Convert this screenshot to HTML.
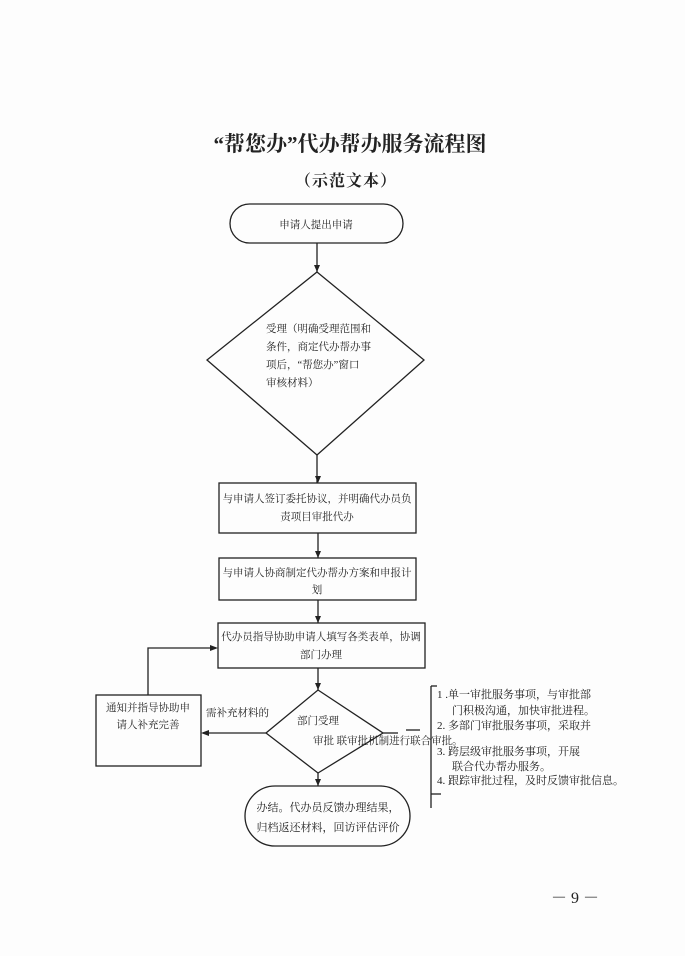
<!DOCTYPE html>
<html><head><meta charset="utf-8"><style>
html,body{margin:0;padding:0;background:#fff;}
svg{display:block;}
text{font-family:"Liberation Serif","Noto Serif CJK SC",serif;fill:#222;}
</style></head><body>
<svg width="685" height="956" viewBox="0 0 685 956" xmlns="http://www.w3.org/2000/svg">
<rect width="685" height="956" fill="#fdfdfd"/>
<g stroke="#222" stroke-width="1.3" fill="none">
<rect x="230" y="204" width="173" height="39" rx="19.5"/>
<line x1="317" y1="243" x2="317" y2="272"/>
<polygon points="317,272 424,360 317,455 207,360"/>
<line x1="317" y1="455" x2="317" y2="483"/>
<rect x="219" y="483" width="197" height="50"/>
<line x1="318" y1="533" x2="318" y2="558"/>
<rect x="219" y="558" width="197" height="42"/>
<line x1="318" y1="600" x2="318" y2="623"/>
<rect x="218" y="623" width="207" height="45"/>
<line x1="318" y1="668" x2="318" y2="690"/>
<polygon points="318,690 383,733 318,773 266,733"/>
<line x1="318" y1="773" x2="318" y2="786"/>
<rect x="245" y="786" width="165" height="60" rx="30"/>
<rect x="96" y="695" width="105" height="71"/>
<line x1="266" y1="733" x2="203" y2="733"/>
<polyline points="148,695 148,648 216,648"/>
<line x1="383" y1="733" x2="398" y2="733"/>
<line x1="406" y1="730" x2="420" y2="730"/>
<line x1="431" y1="686" x2="431" y2="808"/>
<line x1="431" y1="686" x2="437" y2="686"/>
<line x1="431" y1="794" x2="441" y2="794"/>
</g>
<g fill="#222">
<polygon points="218,648 210,645 210,651"/>
<polygon points="201,733 209,730 209,736"/>
<polygon points="317,272 314,265 320,265"/>
<polygon points="318,483 315,476 321,476"/>
<polygon points="318,558 315,551 321,551"/>
<polygon points="318,623 315,616 321,616"/>
<polygon points="318,690 315,683 321,683"/>
<polygon points="318,786 315,779 321,779"/>
</g>
<text x="350" y="151" font-size="21" font-weight="bold" text-anchor="middle">“帮您办”代办帮办服务流程图</text>
<text x="346" y="186" font-size="16" font-weight="bold" text-anchor="middle" letter-spacing="1">（示范文本）</text>
<g font-size="10.5">
<text x="316" y="228" text-anchor="middle">申请人提出申请</text>
<text x="266" y="332">受理（明确受理范围和</text>
<text x="266" y="350">条件，商定代办帮办事</text>
<text x="266" y="368">项后，“帮您办”窗口</text>
<text x="266" y="386">审核材料）</text>
<text x="317" y="502" text-anchor="middle">与申请人签订委托协议，并明确代办员负</text>
<text x="317" y="520" text-anchor="middle">责项目审批代办</text>
<text x="317" y="576" text-anchor="middle">与申请人协商制定代办帮办方案和申报计</text>
<text x="317" y="593" text-anchor="middle">划</text>
<text x="321" y="640" text-anchor="middle">代办员指导协助申请人填写各类表单，协调</text>
<text x="321" y="658" text-anchor="middle">部门办理</text>
<text x="148" y="711" text-anchor="middle">通知并指导协助申</text>
<text x="148" y="728" text-anchor="middle">请人补充完善</text>
<text x="206" y="716">需补充材料的</text>
<text x="297" y="724">部门受理</text>
<text x="313" y="744">审批 联审批机制进行联合审批。</text>
</g>
<g font-size="11">
<text x="437" y="698">1 .单一审批服务事项，与审批部</text>
<text x="452" y="714">门积极沟通，加快审批进程。</text>
<text x="437" y="729">2.  多部门审批服务事项，采取并</text>
<text x="437" y="755">3.  跨层级审批服务事项，开展</text>
<text x="452" y="770">联合代办帮办服务。</text>
<text x="437" y="784">4. 跟踪审批过程，及时反馈审批信息。</text>
<text x="328" y="811" text-anchor="middle">办结。代办员反馈办理结果，</text>
<text x="328" y="831" text-anchor="middle">归档返还材料，回访评估评价</text>
</g>
<text x="575" y="903" font-size="16" text-anchor="middle">－ 9 －</text>
</svg>
</body></html>
